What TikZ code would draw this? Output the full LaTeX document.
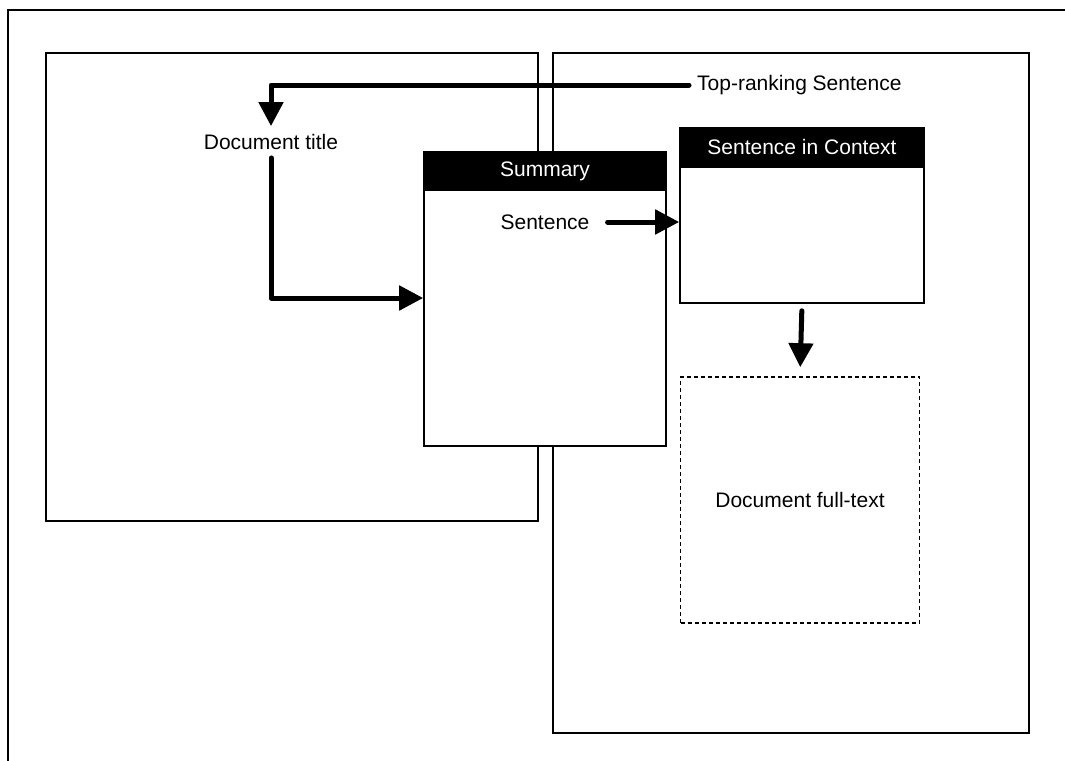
\documentclass[tikz,border=0pt]{standalone}
\usepackage{fontspec}
\setmainfont{Liberation Sans}
\usetikzlibrary{arrows.meta}

\begin{document}
\begin{tikzpicture}[x=1pt, y=-1pt,
  pane/.style={rectangle, draw, line width=1.6pt, inner sep=0pt},
  header/.style={rectangle, fill=black, text=white, inner sep=0pt, font=\fontsize{21}{25}\selectfont},
  body/.style={rectangle, draw, fill=white, line width=1.6pt, inner sep=0pt, font=\fontsize{21}{25}\selectfont},
  txt/.style={inner sep=8pt, font=\fontsize{21}{25}\selectfont},
  flow/.style={-{Triangle[length=24pt,width=24pt]}, line width=5pt, line cap=round, line join=round}]
\clip (0,0) rectangle (1065,760);
% outer frame, runs off the page on the right and bottom
\draw[line width=1.6pt] (8,10) rectangle (1090,790);
% Define the nodes
\node[pane, minimum width=492, minimum height=468] at (292,287) (leftpane) {};
\node[pane, minimum width=476, minimum height=680] at (791,393) (rightpane) {};
\node[body, minimum width=242, minimum height=256] at (545,318) (sumbody) {};
\node[header, minimum width=244, minimum height=40] at (545,171) (sumhead) {Summary};
\node[body, minimum width=244, minimum height=136] at (802,235) (ctxbody) {};
\node[header, minimum width=246, minimum height=40] at (802,147) (ctxhead) {Sentence in Context};
\node[body, dash pattern=on 4pt off 3pt, minimum width=239, minimum height=246] at (800,500) (fulltext) {Document full-text};
\node[txt] at (545,222) (sentence) {Sentence};
\node[txt] at (271,142) (doctitle) {Document title};
\node[txt, anchor=west] at (689,85) (toprank) {Top-ranking Sentence};
% Draw the paths
\draw[flow] (toprank.west) -| (doctitle.north);
\draw[flow] (doctitle.south) |- ([yshift=20pt]sumbody.west);
\draw[flow, shorten <=10pt] (sentence.east) -- (sentence.east -| ctxbody.west);
\draw[flow, shorten <=7pt, shorten >=9pt] (ctxbody.south) -- (fulltext.north);
\end{tikzpicture}
\end{document}
